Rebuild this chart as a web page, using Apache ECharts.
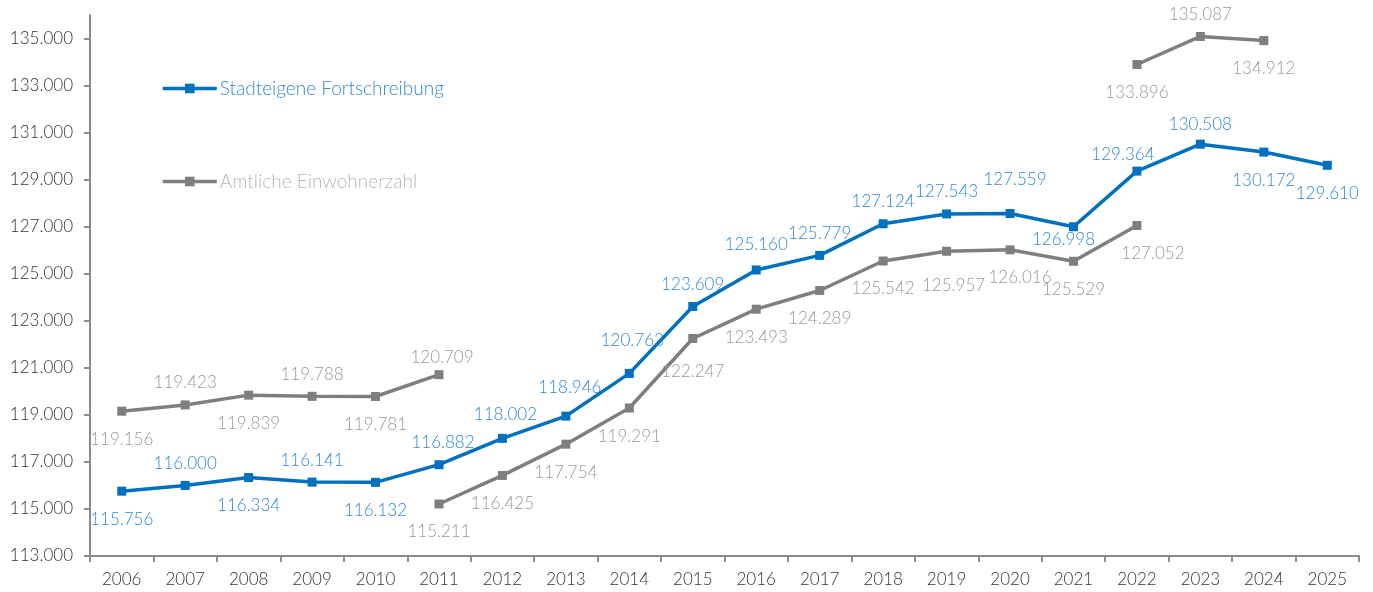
<!DOCTYPE html>
<html>
<head>
<meta charset="utf-8">
<script src="https://cdn.jsdelivr.net/npm/echarts@6/dist/echarts.min.js"></script>
<style>
html,body{margin:0;padding:0;background:#fff;}
#chart{width:1373px;height:592px;}
</style>
</head>
<body>
<div id="chart"></div>
<script>
const years = ['2006','2007','2008','2009','2010','2011','2012','2013','2014','2015','2016','2017','2018','2019','2020','2021','2022','2023','2024','2025'];
const stadteigene = [115756,116000,116334,116141,116132,116882,118002,118946,120763,123609,125160,125779,127124,127543,127559,126998,129364,130508,130172,129610];
const amtlichA = [119156,119423,119839,119788,119781,120709,null,null,null,null,null,null,null,null,null,null,null,null,null,null];
const amtlichB = [null,null,null,null,null,115211,116425,117754,119291,122247,123493,124289,125542,125957,126016,125529,127052,null,null,null];
const amtlichC = [null,null,null,null,null,null,null,null,null,null,null,null,null,null,null,null,133896,135087,134912,null];
const yTicks = {min:113000, max:136000, interval:2000};

// label placement (layout only): 't' above, 'b' below, optional pixel nudges [dx, dy]
const posBlue = ['b','t','b','t','b','t','t','t','t','t','t','t','t','t','t','b','t','t','b','b'];
const nudgeBlue = {5:[4,0],6:[3,-2],7:[4,-7],8:[3,-11],10:[0,-3],14:[5,-12],15:[-10,-15],16:[-14,5],17:[0,2]};
const posA = ['b','t','b','t','b','t'];
const nudgeA = {5:[3,5]};
const nudgeB = {9:[0,5],13:[7,6],14:[10,0],16:[16,0]};
const posC = {16:'b',17:'t',18:'b'};

const BLUE='#0070C0', BLUE_TXT='#3189D2', GRAY='#7F7F7F', GRAY_TXT='#999999', GRAY_LEG='#B6B6B6';
const FONT = 'Lato, "Open Sans", sans-serif';

function fmt(v){
  const s = String(Math.round(v));
  return s.replace(/\B(?=(\d{3})+(?!\d))/g,'.');
}
function build(values, posFn, nudge){
  return values.map((v,i)=>{
    if(v==null) return null;
    const p = posFn(i);
    const n = (nudge && nudge[i]) || [0,0];
    return {value:v, label:{position: p==='t'?'top':'bottom', distance: p==='t'?9:15, offset:n}};
  });
}
const labelBase = (c)=>({show:true, color:c, fontFamily:FONT, fontWeight:300, fontSize:17, formatter:(p)=>fmt(p.value)});

const chart = echarts.init(document.getElementById('chart'));
const lineCommon = {type:'line', symbol:'rect', symbolSize:9, connectNulls:false, animation:false};
chart.setOption({
  animation:false,
  grid:{left:90, right:14, top:15, bottom:36, containLabel:false},
  legend:{
    orient:'vertical', left:156, top:74, itemGap:74, itemWidth:54, itemHeight:12,
    lineStyle:{width:3.5},
    textStyle:{fontFamily:FONT, fontWeight:300, fontSize:19, padding:[0,0,0,-2]},
    data:[
      {name:'Stadteigene Fortschreibung', textStyle:{color:BLUE_TXT}},
      {name:'Amtliche Einwohnerzahl', textStyle:{color:GRAY_LEG}}
    ],
    selectedMode:false
  },
  xAxis:{
    type:'category', data:years, boundaryGap:true,
    axisLine:{lineStyle:{color:'#8C8C8C', width:2}},
    axisTick:{show:true, length:6, lineStyle:{color:'#8C8C8C', width:2}},
    axisLabel:{color:'#333', fontFamily:FONT, fontWeight:300, fontSize:17, margin:15},
    splitLine:{show:false}
  },
  yAxis:{
    type:'value', min:yTicks.min, max:yTicks.max, interval:yTicks.interval,
    axisLine:{show:true, lineStyle:{color:'#8C8C8C', width:2}},
    axisTick:{show:true, length:6, lineStyle:{color:'#8C8C8C', width:2}},
    axisLabel:{color:'#333', fontFamily:FONT, fontWeight:300, fontSize:17, margin:17, showMaxLabel:false, formatter:(v)=>fmt(v)},
    splitLine:{show:false}
  },
  series:[
    Object.assign({}, lineCommon, {
      name:'Stadteigene Fortschreibung',
      data: build(stadteigene, i=>posBlue[i], nudgeBlue),
      itemStyle:{color:BLUE}, lineStyle:{color:BLUE, width:3.5},
      label: labelBase(BLUE_TXT), z:3
    }),
    Object.assign({}, lineCommon, {
      name:'Amtliche Einwohnerzahl',
      data: build(amtlichA, i=>posA[i], nudgeA),
      itemStyle:{color:GRAY}, lineStyle:{color:GRAY, width:3.5},
      label: labelBase(GRAY_TXT)
    }),
    Object.assign({}, lineCommon, {
      name:'Amtliche Einwohnerzahl',
      data: build(amtlichB, i=>'b', nudgeB),
      itemStyle:{color:GRAY}, lineStyle:{color:GRAY, width:3.5},
      label: labelBase(GRAY_TXT)
    }),
    Object.assign({}, lineCommon, {
      name:'Amtliche Einwohnerzahl',
      data: build(amtlichC, i=>posC[i], null),
      itemStyle:{color:GRAY}, lineStyle:{color:GRAY, width:3.5},
      label: labelBase(GRAY_TXT)
    })
  ]
});
</script>
</body>
</html>
